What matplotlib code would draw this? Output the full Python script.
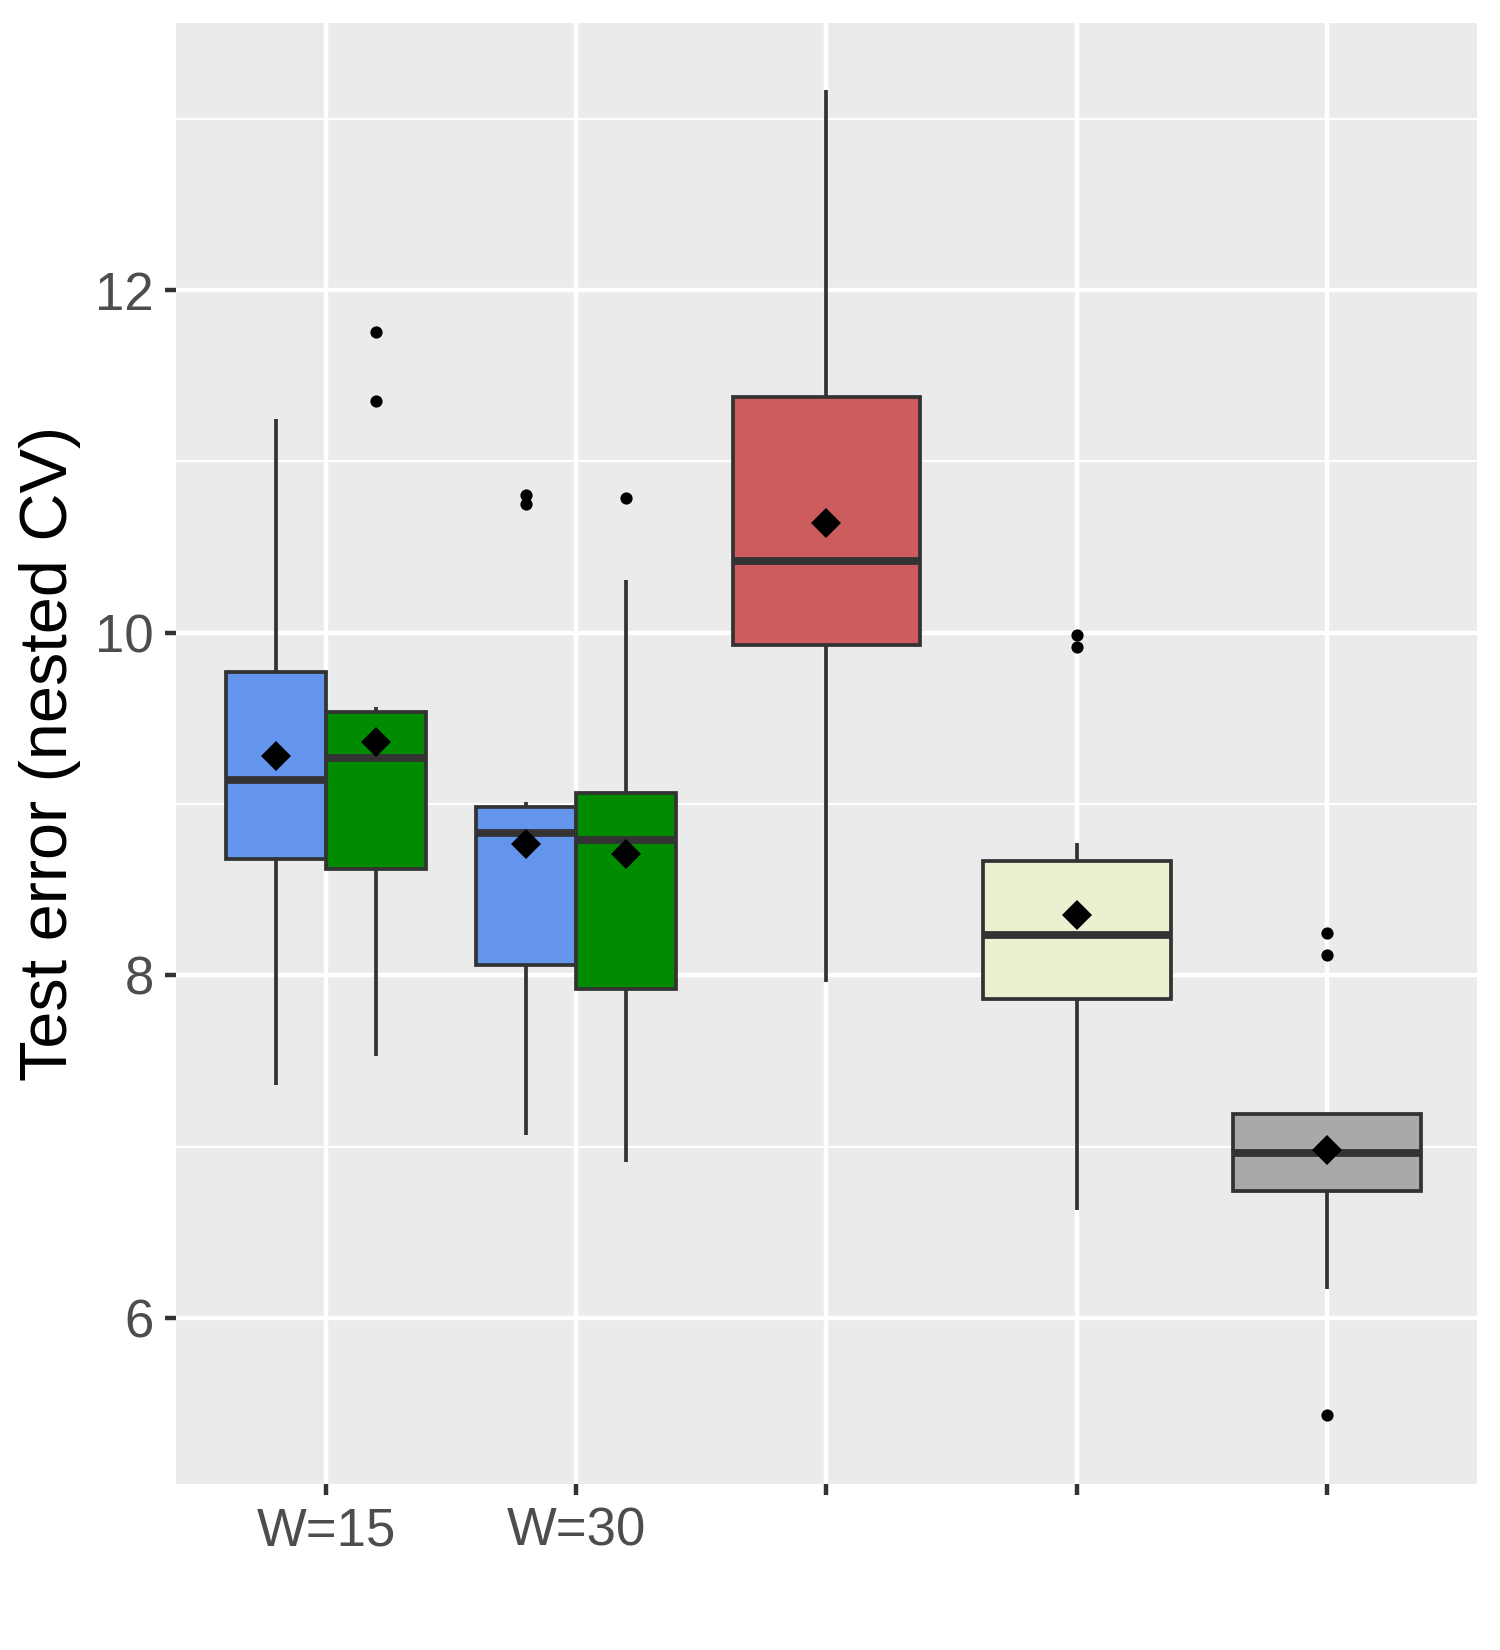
import numpy as np
import matplotlib.pyplot as plt

plt.rcParams['font.family'] = ['Liberation Sans', 'DejaVu Sans']

# categories on the x axis (only the first two are labelled)
categories = ["W=15", "W=30", "", "", ""]

# one entry per box: category index and dodge slot (-1 left, 1 right, 0 alone)
box_cat = [0, 0, 1, 1, 2, 3, 4]
box_dodge = [-1, 1, -1, 1, 0, 0, 0]
box_fill = ["#6495ED", "#008B00", "#6495ED", "#008B00", "#CD5C5C", "#EDEFD1", "#A9A9A9"]

whis_lo = [7.36, 7.53, 7.07, 6.91, 7.96, 6.63, 6.17]
q1 = [8.68, 8.62, 8.06, 7.92, 9.93, 7.86, 6.74]
median = [9.14, 9.27, 8.83, 8.79, 10.42, 8.235, 6.965]
q3 = [9.77, 9.535, 8.98, 9.065, 11.375, 8.67, 7.19]
whis_hi = [11.25, 9.565, 9.01, 10.31, 13.17, 8.77, 7.19]
means = [9.28, 9.365, 8.765, 8.71, 10.64, 8.35, 6.98]
outliers = [[], [11.355, 11.757], [10.751, 10.806], [10.786], [],
            [9.918, 9.986], [5.43, 8.118, 8.247]]

stats = []
for i in range(len(box_cat)):
    stats.append({
        'whislo': whis_lo[i], 'q1': q1[i], 'med': median[i], 'q3': q3[i],
        'whishi': whis_hi[i], 'mean': means[i], 'fliers': np.array(outliers[i]),
    })
positions = [c + 1 + d * 0.2 for c, d in zip(box_cat, box_dodge)]
widths = [0.4 if d != 0 else 0.75 for d in box_dodge]

fig = plt.figure(figsize=(15, 16.5), dpi=100)
ax = fig.add_axes([0.11733, 0.10061, 0.86733, 0.88545])
ax.set_facecolor('#EBEBEB')
for s in ax.spines.values():
    s.set_visible(False)

edge = '#333333'
bp = ax.bxp(stats, positions=positions, widths=widths, patch_artist=True,
            showcaps=False, showmeans=True, manage_ticks=False,
            boxprops=dict(edgecolor=edge, linewidth=2.7, joinstyle='miter'),
            medianprops=dict(color=edge, linewidth=5.6, solid_capstyle='butt'),
            whiskerprops=dict(color=edge, linewidth=2.7, solid_capstyle='butt'),
            flierprops=dict(marker='o', markerfacecolor='black', markeredgewidth=0,
                            markersize=8.8, linestyle='none'),
            meanprops=dict(marker='D', markerfacecolor='black', markeredgewidth=0,
                           markersize=14.8, zorder=6))
for patch, c in zip(bp['boxes'], box_fill):
    patch.set_facecolor(c)

ax.set_xlim(0.4, 5.6)
ax.set_ylim(5.03, 13.56)
ax.set_xticks(range(1, len(categories) + 1))
ax.set_xticklabels(categories)
ax.set_yticks([6, 8, 10, 12])
ax.set_yticks([7, 9, 11, 13], minor=True)

ax.set_axisbelow(True)
ax.grid(which='major', axis='both', color='white', linewidth=3.2)
ax.grid(which='minor', axis='y', color='white', linewidth=1.5)

ax.tick_params(axis='both', which='major', length=7.9, width=3.2, color=edge,
               labelsize=38, labelcolor='#4D4D4D', pad=8)
ax.tick_params(axis='y', which='minor', length=0)

ax.set_ylabel("Test error (nested CV)", fontsize=48, color='black')
ax.yaxis.set_label_coords(-0.073, 0.5)

fig.savefig('out.png', dpi=100)
